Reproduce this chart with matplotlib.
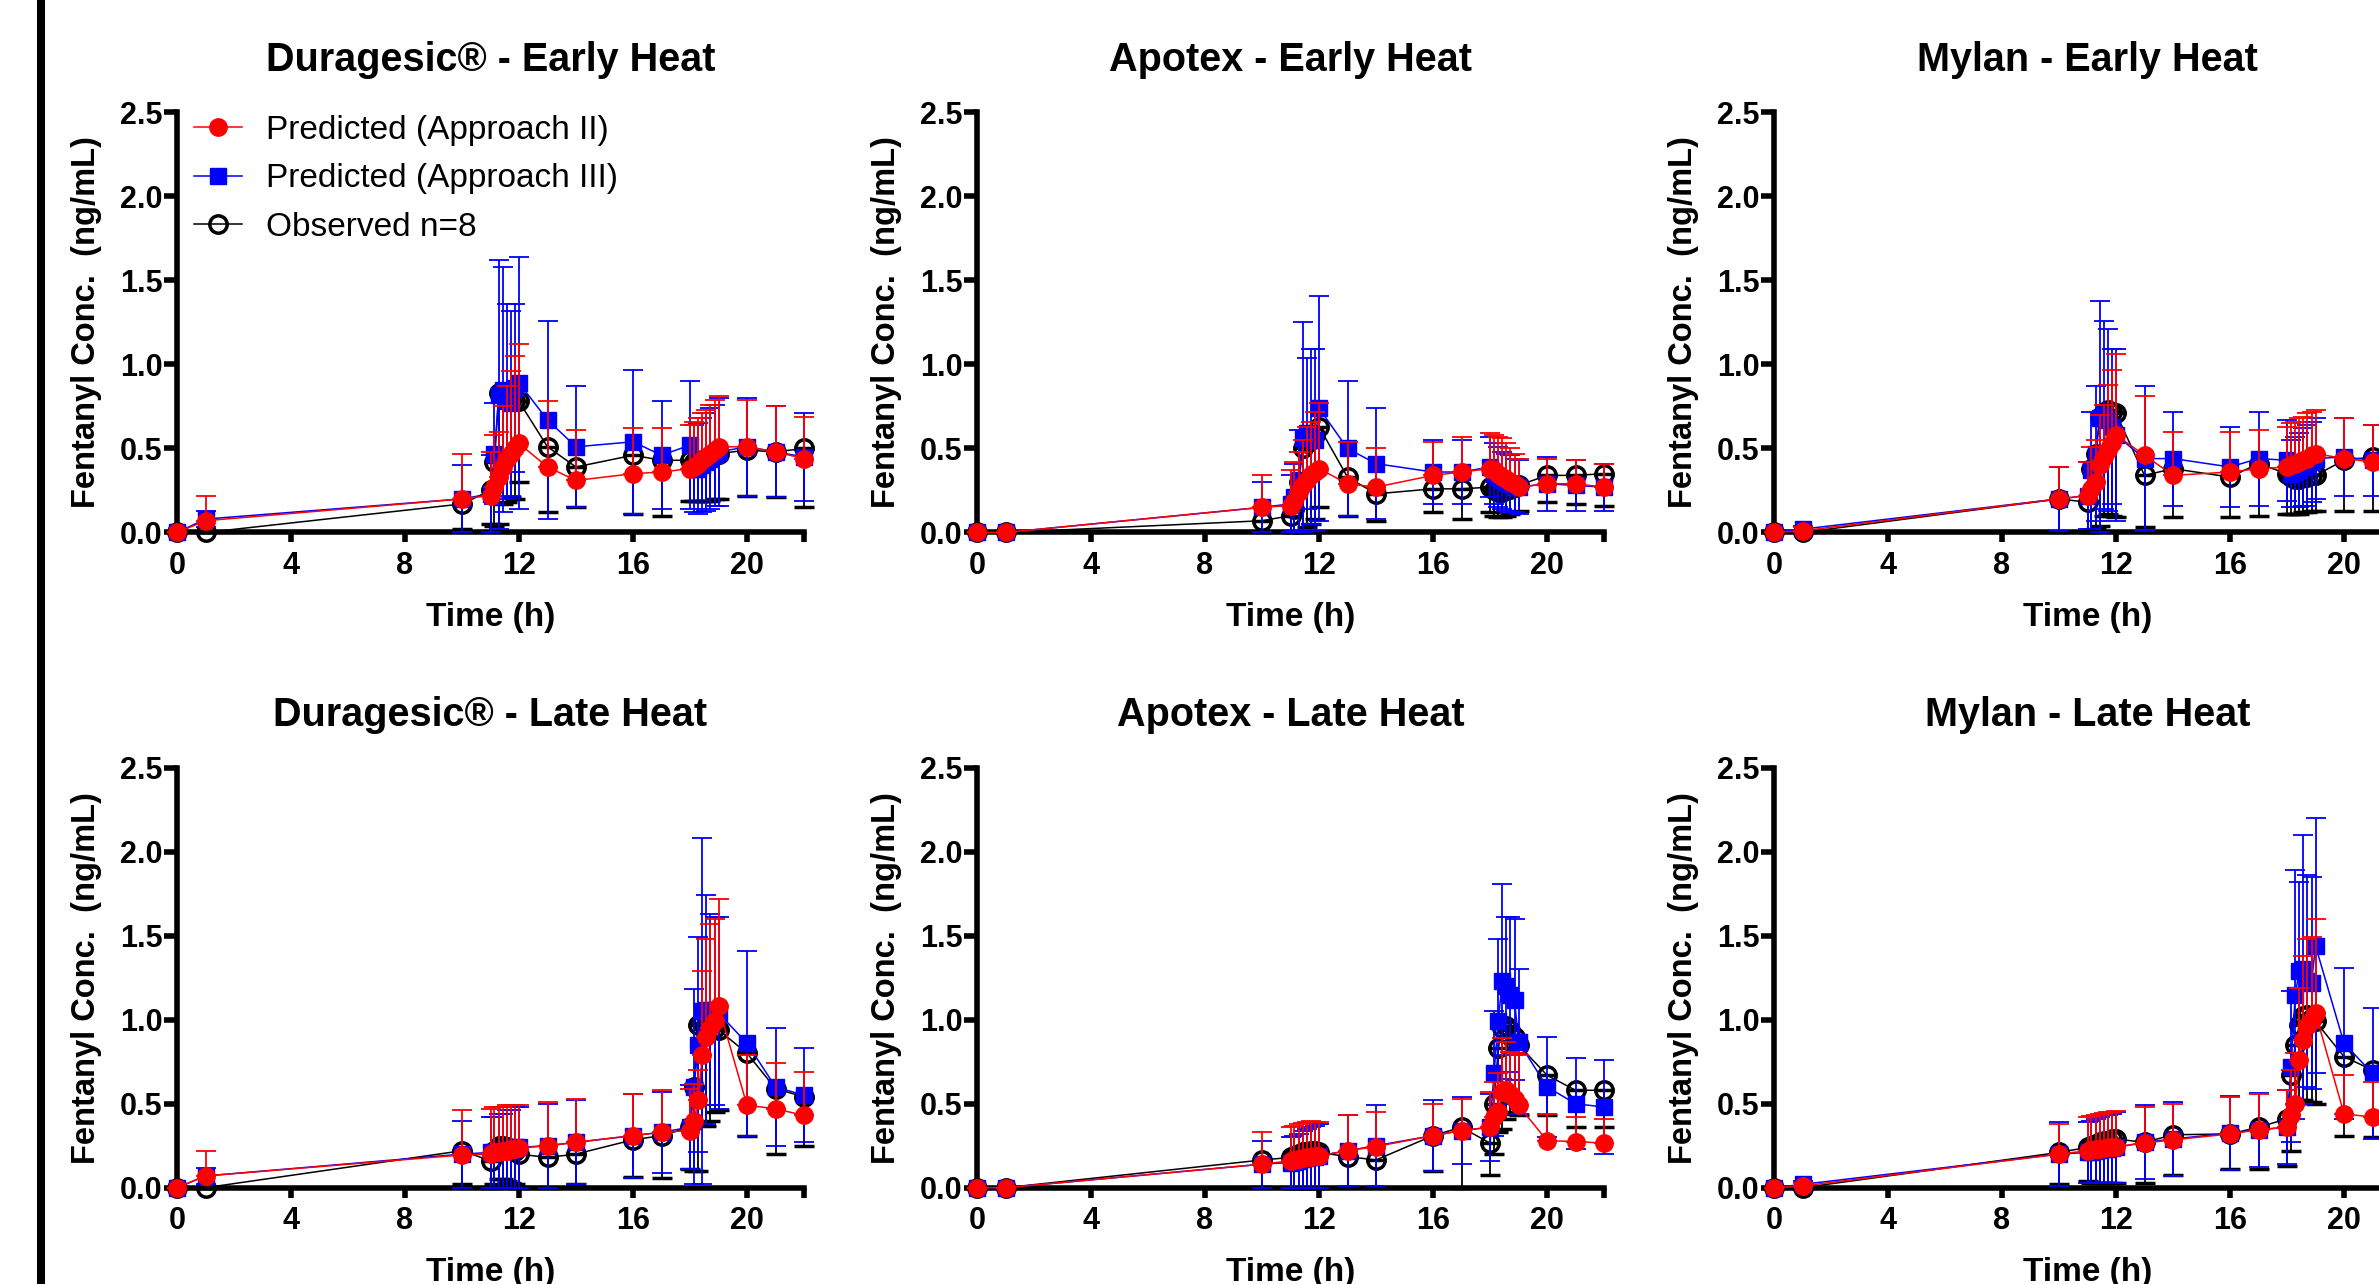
import numpy as np
import matplotlib
matplotlib.use("Agg")
import matplotlib.pyplot as plt
from matplotlib.lines import Line2D
from matplotlib.ticker import FormatStrFormatter

# ── Data ────────────────────────────────────────────────────────────────────
TIME = [0, 1, 10, 11, 11.14, 11.29, 11.43, 11.57, 11.71, 11.86, 12, 13, 14, 16, 17,
        18, 18.14, 18.29, 18.43, 18.57, 18.71, 18.86, 19, 20, 21, 22]

TITLES = ["Duragesic® - Early Heat", "Apotex - Early Heat", "Mylan - Early Heat",
          "Duragesic® - Late Heat", "Apotex - Late Heat", "Mylan - Late Heat"]

LABELS = ["Predicted (Approach II)", "Predicted (Approach III)", "Observed n=8"]

# Predicted (Approach II): mean and upper SD
DUR_EARLY_II = [0, 0.07, 0.20, 0.22, 0.27, 0.33, 0.39, 0.44, 0.47, 0.50, 0.53, 0.39, 0.31, 0.35, 0.36,
                0.38, 0.39, 0.41, 0.43, 0.45, 0.47, 0.49, 0.51, 0.51, 0.48, 0.44]
DUR_EARLY_II_SD = [0, 0.15, 0.27, 0.26, 0.31, 0.27, 0.36, 0.43, 0.49, 0.55, 0.59, 0.39, 0.30, 0.27, 0.26,
                   0.26, 0.27, 0.27, 0.28, 0.28, 0.29, 0.30, 0.30, 0.28, 0.27, 0.25]
APO_EARLY_II = [0, 0, 0.15, 0.16, 0.19, 0.24, 0.28, 0.31, 0.34, 0.36, 0.38, 0.29, 0.27, 0.34, 0.36,
                0.38, 0.37, 0.35, 0.33, 0.32, 0.30, 0.29, 0.27, 0.29, 0.29, 0.27]
APO_EARLY_II_SD = [0, 0, 0.19, 0.21, 0.23, 0.24, 0.27, 0.32, 0.32, 0.36, 0.39, 0.25, 0.23, 0.20, 0.21,
                   0.21, 0.21, 0.22, 0.23, 0.21, 0.20, 0.18, 0.17, 0.15, 0.14, 0.14]
MYL_EARLY_II = [0, 0.01, 0.20, 0.22, 0.26, 0.30, 0.40, 0.45, 0.49, 0.53, 0.58, 0.46, 0.34, 0.36, 0.38,
                0.39, 0.40, 0.41, 0.42, 0.43, 0.44, 0.46, 0.47, 0.44, 0.42, 0.41]
MYL_EARLY_II_SD = [0, 0.02, 0.19, 0.20, 0.25, 0.25, 0.30, 0.31, 0.39, 0.44, 0.48, 0.35, 0.26, 0.24, 0.23,
                   0.24, 0.25, 0.25, 0.26, 0.26, 0.27, 0.26, 0.26, 0.24, 0.22, 0.22]
DUR_LATE_II = [0, 0.07, 0.195, 0.20, 0.21, 0.21, 0.22, 0.22, 0.23, 0.23, 0.235, 0.25, 0.27, 0.31, 0.33,
               0.34, 0.40, 0.52, 0.79, 0.90, 0.95, 0.99, 1.08, 0.49, 0.47, 0.43]
DUR_LATE_II_SD = [0, 0.15, 0.27, 0.27, 0.27, 0.27, 0.26, 0.27, 0.26, 0.26, 0.26, 0.26, 0.26, 0.25, 0.25,
                  0.25, 0.22, 0.18, 0.50, 0.58, 0.62, 0.61, 0.64, 0.30, 0.27, 0.26]
APO_LATE_II = [0, 0, 0.14, 0.16, 0.165, 0.17, 0.175, 0.18, 0.185, 0.19, 0.19, 0.22, 0.245, 0.31, 0.34,
               0.36, 0.42, 0.45, 0.57, 0.58, 0.56, 0.53, 0.49, 0.28, 0.275, 0.265]
APO_LATE_II_SD = [0, 0, 0.19, 0.20, 0.205, 0.21, 0.21, 0.21, 0.21, 0.20, 0.20, 0.21, 0.205, 0.19, 0.19,
                  0.21, 0.21, 0.23, 0.32, 0.29, 0.25, 0.27, 0.30, 0.16, 0.145, 0.145]
MYL_LATE_II = [0, 0.01, 0.20, 0.22, 0.225, 0.23, 0.23, 0.235, 0.24, 0.24, 0.245, 0.265, 0.285, 0.32, 0.345,
               0.36, 0.43, 0.50, 0.76, 0.88, 0.96, 1.00, 1.04, 0.44, 0.42, 0.40]
MYL_LATE_II_SD = [0, 0.02, 0.18, 0.20, 0.20, 0.20, 0.21, 0.21, 0.21, 0.21, 0.21, 0.215, 0.215, 0.22, 0.215,
                  0.22, 0.27, 0.30, 0.43, 0.50, 0.52, 0.49, 0.56, 0.23, 0.21, 0.21]

# Predicted (Approach III): mean and SD (both directions)
DUR_EARLY_III = [0, 0.08, 0.20, 0.23, 0.47, 0.82, 0.85, 0.78, 0.77, 0.86, 0.89, 0.67, 0.51, 0.54, 0.46,
                 0.52, 0.38, 0.38, 0.40, 0.42, 0.44, 0.46, 0.48, 0.51, 0.48, 0.45]
DUR_EARLY_III_SD = [0, 0.05, 0.20, 0.23, 0.30, 0.80, 0.73, 0.58, 0.55, 0.50, 0.75, 0.59, 0.36, 0.43, 0.32,
                    0.38, 0.26, 0.27, 0.28, 0.29, 0.30, 0.30, 0.32, 0.29, 0.27, 0.26]
APO_EARLY_III = [0, 0, 0.15, 0.17, 0.21, 0.31, 0.56, 0.59, 0.57, 0.55, 0.74, 0.50, 0.41, 0.36, 0.36,
                 0.39, 0.35, 0.33, 0.31, 0.30, 0.29, 0.28, 0.27, 0.29, 0.28, 0.27]
APO_EARLY_III_SD = [0, 0, 0.15, 0.17, 0.20, 0.30, 0.69, 0.45, 0.52, 0.54, 0.67, 0.40, 0.33, 0.19, 0.19,
                    0.18, 0.18, 0.18, 0.17, 0.17, 0.17, 0.16, 0.16, 0.16, 0.15, 0.14]
MYL_EARLY_III = [0, 0.02, 0.20, 0.22, 0.37, 0.47, 0.68, 0.70, 0.67, 0.63, 0.58, 0.44, 0.44, 0.39, 0.44,
                 0.43, 0.35, 0.36, 0.37, 0.39, 0.40, 0.42, 0.44, 0.45, 0.43, 0.42]
MYL_EARLY_III_SD = [0, 0.02, 0.19, 0.20, 0.35, 0.40, 0.70, 0.56, 0.54, 0.46, 0.51, 0.43, 0.28, 0.24, 0.28,
                    0.24, 0.20, 0.21, 0.22, 0.23, 0.24, 0.24, 0.24, 0.23, 0.21, 0.21]
DUR_LATE_III = [0, 0.07, 0.20, 0.21, 0.21, 0.22, 0.22, 0.23, 0.23, 0.24, 0.24, 0.25, 0.27, 0.31, 0.33,
                0.36, 0.60, 0.85, 1.05, 1.06, 1.06, 1.05, 1.04, 0.86, 0.60, 0.55]
DUR_LATE_III_SD = [0, 0.05, 0.20, 0.21, 0.21, 0.22, 0.22, 0.23, 0.23, 0.24, 0.24, 0.25, 0.25, 0.25, 0.24,
                   0.25, 0.58, 0.64, 1.03, 0.68, 0.57, 0.56, 0.57, 0.55, 0.35, 0.28]
APO_LATE_III = [0, 0, 0.14, 0.15, 0.155, 0.16, 0.17, 0.175, 0.18, 0.185, 0.19, 0.22, 0.25, 0.31, 0.34,
                0.36, 0.68, 0.99, 1.23, 1.20, 1.15, 1.12, 0.87, 0.60, 0.50, 0.48]
APO_LATE_III_SD = [0, 0, 0.14, 0.15, 0.155, 0.16, 0.17, 0.175, 0.18, 0.185, 0.19, 0.21, 0.24, 0.21, 0.20,
                   0.20, 0.37, 0.49, 0.58, 0.41, 0.46, 0.48, 0.43, 0.30, 0.27, 0.28]
MYL_LATE_III = [0, 0.02, 0.20, 0.21, 0.215, 0.22, 0.225, 0.23, 0.23, 0.235, 0.24, 0.27, 0.29, 0.325, 0.345,
                0.36, 0.72, 1.15, 1.29, 1.30, 1.23, 1.22, 1.44, 0.86, 0.68, 0.62]
MYL_LATE_III_SD = [0, 0.02, 0.19, 0.18, 0.185, 0.19, 0.195, 0.20, 0.20, 0.205, 0.21, 0.22, 0.22, 0.22, 0.22,
                   0.22, 0.45, 0.74, 0.53, 0.80, 0.63, 0.63, 0.76, 0.45, 0.39, 0.36]

# Observed n=8: mean and lower SD
DUR_EARLY_OBS = [0, 0, 0.17, 0.25, 0.42, 0.83, 0.82, 0.80, 0.79, 0.78, 0.78, 0.51, 0.39, 0.46, 0.43,
                 0.43, 0.42, 0.42, 0.43, 0.44, 0.45, 0.46, 0.47, 0.49, 0.48, 0.50]
DUR_EARLY_OBS_SD = [0, 0, 0.15, 0.20, 0.38, 0.78, 0.65, 0.62, 0.58, 0.58, 0.48, 0.39, 0.24, 0.35, 0.33,
                    0.24, 0.23, 0.23, 0.24, 0.25, 0.26, 0.26, 0.27, 0.27, 0.27, 0.35]
APO_EARLY_OBS = [0, 0, 0.07, 0.10, 0.14, 0.30, 0.50, 0.53, 0.55, 0.58, 0.63, 0.33, 0.23, 0.26, 0.26,
                 0.27, 0.25, 0.24, 0.24, 0.25, 0.26, 0.27, 0.28, 0.34, 0.34, 0.35]
APO_EARLY_OBS_SD = [0, 0, 0.07, 0.10, 0.14, 0.30, 0.50, 0.50, 0.50, 0.50, 0.48, 0.23, 0.16, 0.14, 0.18,
                    0.15, 0.15, 0.15, 0.15, 0.15, 0.15, 0.15, 0.15, 0.16, 0.17, 0.19]
MYL_EARLY_OBS = [0, 0, 0.20, 0.18, 0.38, 0.47, 0.69, 0.72, 0.73, 0.72, 0.71, 0.34, 0.38, 0.33, 0.41,
                 0.35, 0.33, 0.32, 0.32, 0.33, 0.33, 0.34, 0.34, 0.43, 0.45, 0.45]
MYL_EARLY_OBS_SD = [0, 0, 0.20, 0.18, 0.38, 0.45, 0.65, 0.62, 0.62, 0.62, 0.62, 0.31, 0.29, 0.24, 0.31,
                    0.24, 0.22, 0.21, 0.21, 0.21, 0.21, 0.21, 0.21, 0.30, 0.32, 0.32]
DUR_LATE_OBS = [0, 0, 0.22, 0.16, 0.22, 0.25, 0.25, 0.24, 0.23, 0.22, 0.20, 0.18, 0.20, 0.285, 0.31,
                0.36, 0.60, 0.97, 0.98, 0.97, 0.96, 0.95, 0.94, 0.80, 0.59, 0.54]
DUR_LATE_OBS_SD = [0, 0, 0.20, 0.16, 0.20, 0.20, 0.20, 0.20, 0.20, 0.20, 0.20, 0.18, 0.18, 0.22, 0.25,
                   0.25, 0.50, 0.87, 0.60, 0.60, 0.56, 0.50, 0.48, 0.49, 0.39, 0.29]
APO_LATE_OBS = [0, 0, 0.165, 0.18, 0.19, 0.20, 0.21, 0.21, 0.22, 0.22, 0.21, 0.185, 0.165, 0.31, 0.36,
                0.265, 0.50, 0.83, 0.95, 0.96, 0.94, 0.90, 0.85, 0.67, 0.58, 0.58]
APO_LATE_OBS_SD = [0, 0, 0.16, 0.18, 0.19, 0.20, 0.21, 0.21, 0.22, 0.22, 0.21, 0.18, 0.16, 0.21, 0.36,
                   0.19, 0.30, 0.50, 0.60, 0.55, 0.50, 0.45, 0.42, 0.24, 0.22, 0.22]
MYL_LATE_OBS = [0, 0, 0.21, 0.24, 0.25, 0.26, 0.27, 0.28, 0.28, 0.29, 0.29, 0.27, 0.315, 0.32, 0.36,
                0.41, 0.67, 0.85, 0.97, 1.02, 1.03, 1.01, 0.99, 0.78, 0.70, 0.68]
MYL_LATE_OBS_SD = [0, 0, 0.19, 0.20, 0.22, 0.23, 0.24, 0.25, 0.25, 0.26, 0.26, 0.24, 0.24, 0.21, 0.25,
                   0.28, 0.45, 0.35, 0.45, 0.50, 0.52, 0.50, 0.49, 0.47, 0.40, 0.38]

PANELS = [
    (DUR_EARLY_II, DUR_EARLY_II_SD, DUR_EARLY_III, DUR_EARLY_III_SD, DUR_EARLY_OBS, DUR_EARLY_OBS_SD),
    (APO_EARLY_II, APO_EARLY_II_SD, APO_EARLY_III, APO_EARLY_III_SD, APO_EARLY_OBS, APO_EARLY_OBS_SD),
    (MYL_EARLY_II, MYL_EARLY_II_SD, MYL_EARLY_III, MYL_EARLY_III_SD, MYL_EARLY_OBS, MYL_EARLY_OBS_SD),
    (DUR_LATE_II, DUR_LATE_II_SD, DUR_LATE_III, DUR_LATE_III_SD, DUR_LATE_OBS, DUR_LATE_OBS_SD),
    (APO_LATE_II, APO_LATE_II_SD, APO_LATE_III, APO_LATE_III_SD, APO_LATE_OBS, APO_LATE_OBS_SD),
    (MYL_LATE_II, MYL_LATE_II_SD, MYL_LATE_III, MYL_LATE_III_SD, MYL_LATE_OBS, MYL_LATE_OBS_SD),
]

X_TICKS = [0, 4, 8, 12, 16, 20, 22]
X_TICKLABELS = ["0", "4", "8", "12", "16", "20", ""]
Y_TICKS = [0, 0.5, 1.0, 1.5, 2.0, 2.5]

# ── Style ───────────────────────────────────────────────────────────────────
plt.rcParams.update({
    "font.family": ["Liberation Sans", "DejaVu Sans"],
    "font.weight": "bold",
    "axes.linewidth": 4,
})

W, H = 2379, 1284
fig = plt.figure(figsize=(W / 100, H / 100), dpi=100)

COL_LEFT = [177 / W, 977 / W, 1774 / W]
ROW_BOTTOM = [1 - 532.5 / H, 1 - 1187.7 / H]
AX_W = 627 / W
AX_H = 420 / H

RED, BLUE, BLACK = "#ff0000", "#0000ff", "#000000"

STYLE_RED = dict(marker="o", color=RED, mfc=RED, mec=RED, ms=12.5, lw=1.1)
STYLE_BLUE = dict(marker="s", color=BLUE, mfc=BLUE, mec=BLUE, ms=11.5, lw=1.1)
STYLE_OBS = dict(marker="o", color=BLACK, mfc="none", mec=BLACK, mew=2.5, ms=12.5, lw=1.1)


def draw_panel(ax, data, title, show_legend):
    red, red_sd, blue, blue_sd, obs, obs_sd = [np.asarray(a, float) for a in data]
    t = np.asarray(TIME, float)
    zero = np.zeros_like(t)

    common = dict(elinewidth=1.3, capsize=7, capthick=1.3, clip_on=False)
    ax.errorbar(t, obs, yerr=[np.minimum(obs_sd, obs), zero], zorder=3, **STYLE_OBS, **common)
    ax.errorbar(t, blue, yerr=[np.minimum(blue_sd, blue), blue_sd], zorder=4, **STYLE_BLUE, **common)
    ax.errorbar(t, red, yerr=[zero, red_sd], zorder=5, **STYLE_RED, **common)

    ax.set_xlim(0, 22)
    ax.set_ylim(0, 2.5)
    ax.set_xticks(X_TICKS)
    ax.set_xticklabels(X_TICKLABELS)
    ax.set_yticks(Y_TICKS)
    ax.yaxis.set_major_formatter(FormatStrFormatter("%.1f"))
    ax.spines["top"].set_visible(False)
    ax.spines["right"].set_visible(False)
    ax.tick_params(axis="both", direction="out", width=4, labelsize=22)
    ax.tick_params(axis="y", length=9.5, pad=1)
    ax.tick_params(axis="x", length=7, pad=6)

    ax.set_title(title, fontsize=28.5, fontweight="bold", pad=30)
    ax.set_xlabel("Time (h)", fontsize=24, fontweight="bold")
    ax.set_ylabel("Fentanyl Conc.  (ng/mL)", fontsize=23.5, fontweight="bold")
    ax.xaxis.set_label_coords(0.5, -0.165)
    ax.yaxis.set_label_coords(-0.12, 0.5)

    if show_legend:
        handles = [Line2D([], [], **STYLE_RED), Line2D([], [], **STYLE_BLUE),
                   Line2D([], [], **STYLE_OBS)]
        ax.legend(handles, LABELS, loc="upper left",
                  bbox_to_anchor=(0.027, 0.994), borderaxespad=0, borderpad=0,
                  frameon=False, handlelength=1.45, handletextpad=0.7,
                  labelspacing=0.52, prop={"weight": "normal", "size": 24})


for i, (data, title) in enumerate(zip(PANELS, TITLES)):
    row, col = divmod(i, 3)
    ax = fig.add_axes([COL_LEFT[col], ROW_BOTTOM[row], AX_W, AX_H])
    draw_panel(ax, data, title, show_legend=(i == 0))

# thick vertical rule on the left edge of the crop
fig.add_artist(Line2D([40.5 / W, 40.5 / W], [0, 1], transform=fig.transFigure,
                      color="black", lw=5.8))

fig.savefig("out.png", dpi=100)
